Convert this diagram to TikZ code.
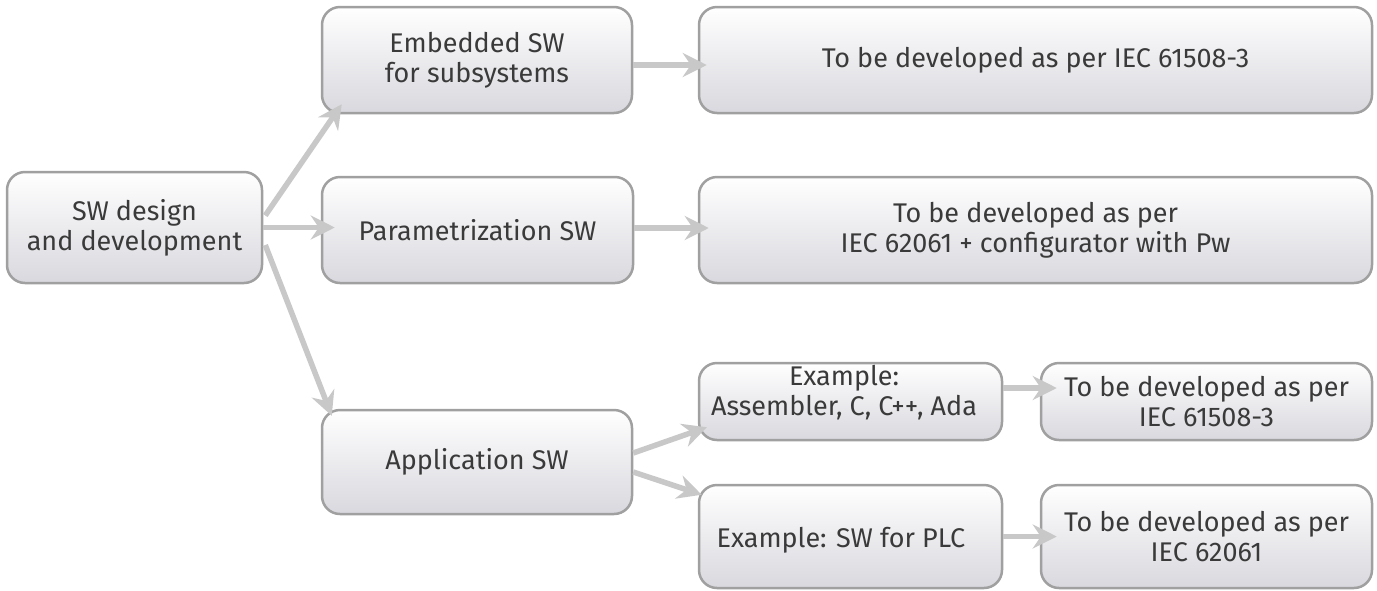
\documentclass[tikz,border=0pt]{standalone}
\usepackage{fontspec}
\setmainfont{Fira Sans}
\usetikzlibrary{arrows.meta,calc}
\definecolor{boxline}{RGB}{160,160,160}
\definecolor{boxbot}{RGB}{216,216,222}
\definecolor{arrowc}{RGB}{200,200,200}
\definecolor{txt}{RGB}{58,58,58}
\tikzset{
  lbl/.style={text=txt, align=center, font=\fontsize{27}{30}\selectfont, inner sep=0pt},
  box/.style={lbl, draw=boxline, line width=2.5pt, rounded corners=18pt,
    top color=white, bottom color=boxbot},
  conn/.style={draw=arrowc, line width=5.5pt,
    -{Stealth[length=24pt,width=24pt,inset=8pt]}}
}
\begin{document}
\begin{tikzpicture}[x=1pt,y=-1pt]
\useasboundingbox (0,0) rectangle (1377,590);
\node[box, minimum width=255pt, minimum height=111pt] (A) at (134.5,227.5) {SW design\\and development};
\node[box, minimum width=310pt, minimum height=106pt] (B) at (477,60) {Embedded SW\\for subsystems};
\node[box, minimum width=311pt, minimum height=106pt] (C) at (477.5,230) {Parametrization SW};
\node[box, minimum width=310pt, minimum height=104pt] (D) at (477,462) {Application SW};
\node[box, minimum width=673pt, minimum height=106pt] (E) at (1035.5,60) {To be developed as per IEC 61508-3};
\node[box, minimum width=673pt, minimum height=106pt] (F) at (1035.5,230) {To be developed as per\\IEC 62061 + configurator with Pw};
\node[box, minimum width=303pt, minimum height=77pt] (G) at (850.5,401.5) {};
\node[lbl] (Gt) at (844,393) {Example:\\Assembler, C, C++, Ada};
\node[box, minimum width=303pt, minimum height=103pt] (H) at (850.5,536.5) {};
\node[lbl] (Ht) at (841,540) {Example: SW for PLC};
\node[box, minimum width=331pt, minimum height=77pt] (I) at (1206.5,401.5) {To be developed as per\\IEC 61508-3};
\node[box, minimum width=331pt, minimum height=103pt] (J) at (1206.5,536.5) {To be developed as per\\IEC 62061};
\draw[conn] ($(A.east)+(2,-12)$) -- ($(B.south west)+(21,-10)$);
\draw[conn] (A.east) -- ($(A.east -| C.west)+(14,0)$);
\draw[conn] ($(A.east)+(2,17.5)$) -- ($(D.north west)+(11,7)$);
\draw[conn] ($(B.east)+(0,5)$) -- ($(E.west)+(9,5)$);
\draw[conn] ($(C.east)+(0,-2)$) -- ($(F.west)+(11,-2)$);
\draw[conn] ($(D.east)+(0,-9)$) -- ($(G.south west)+(9,-14)$);
\draw[conn] ($(D.east)+(0,10)$) -- ($(H.north west)+(4,11)$);
\draw[conn] ($(G.east)+(0,-13.5)$) -- ($(I.west)+(17,-13.5)$);
\draw[conn] (H.east) -- ($(J.west)+(17,0)$);
\end{tikzpicture}
\end{document}
